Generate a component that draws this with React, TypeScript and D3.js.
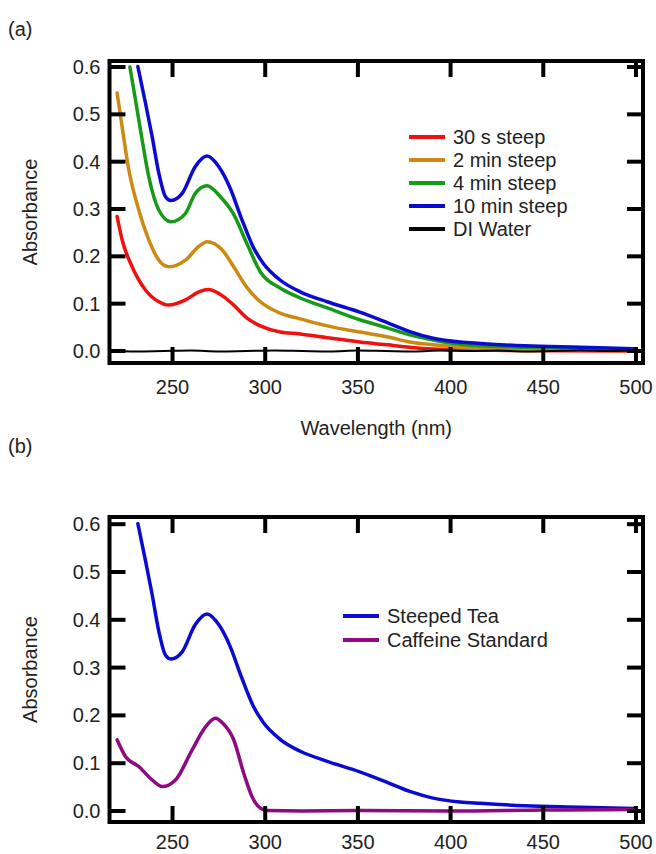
import React from "react";
import * as d3 from "d3";

// ---------- Data ----------
const xTicks = [250, 300, 350, 400, 450, 500];
const yTicks = [0.0, 0.1, 0.2, 0.3, 0.4, 0.5, 0.6];

const wl10min = [231.3, 235.4, 239, 242.6, 246.2, 249.2, 255.2, 262.3, 268.6, 274.9, 281, 287, 293.6, 299, 308, 318.9, 333.5, 351, 365.8, 378, 390.6, 405, 416, 440, 470, 499];
const abs10min = [0.601, 0.524, 0.453, 0.376, 0.326, 0.318, 0.333, 0.39, 0.412, 0.39, 0.345, 0.282, 0.219, 0.185, 0.15, 0.125, 0.104, 0.082, 0.06, 0.041, 0.027, 0.019, 0.016, 0.011, 0.008, 0.005];

const wl4min = [227, 230, 233.6, 237.2, 242.6, 249.2, 257, 262.3, 268.6, 275.8, 282.8, 290, 297.4, 308, 318.9, 333.5, 351, 365.8, 378, 390.6, 405, 416, 440, 470, 499];
const abs4min = [0.6, 0.531, 0.446, 0.368, 0.298, 0.273, 0.291, 0.333, 0.349, 0.326, 0.29, 0.228, 0.167, 0.133, 0.112, 0.091, 0.066, 0.049, 0.034, 0.023, 0.014, 0.011, 0.008, 0.006, 0.004];

const wl2min = [220.1, 222.8, 226.4, 231.8, 237.2, 242.6, 248, 257, 264.2, 268.6, 276.7, 283, 290, 297.4, 308, 318.9, 333.5, 351, 365.8, 378, 390.6, 405, 430, 465, 499];
const abs2min = [0.545, 0.474, 0.383, 0.298, 0.235, 0.192, 0.178, 0.192, 0.221, 0.231, 0.214, 0.178, 0.135, 0.104, 0.08, 0.068, 0.053, 0.04, 0.03, 0.019, 0.013, 0.008, 0.004, 0.002, 0.001];

const wl30s = [220.1, 222.8, 228.2, 235.4, 242.6, 248, 257, 264.2, 269.5, 277.5, 283, 290, 297.4, 308, 318.9, 333.5, 351, 365.8, 378, 390.6, 405, 440, 499];
const abs30s = [0.284, 0.235, 0.178, 0.129, 0.104, 0.097, 0.108, 0.125, 0.13, 0.115, 0.097, 0.07, 0.053, 0.04, 0.036, 0.028, 0.019, 0.013, 0.008, 0.004, 0.002, 0.001, 0.0];

const wlWater = [216, 230, 245, 260, 275, 290, 305, 320, 335, 350, 365, 380, 395, 410, 425, 440, 455, 470, 485, 500];
const absWater = [0.001, -0.001, 0.0, 0.001, -0.001, 0.0, 0.001, 0.0, -0.001, 0.001, 0.0, -0.001, 0.001, 0.0, 0.001, -0.001, 0.0, 0.001, 0.0, 0.001];

const wlCaffeine = [220.1, 224.6, 231.8, 239, 244.4, 251.6, 260.6, 267.8, 273.1, 277, 283, 288.4, 292.9, 297.4, 301, 320, 350, 400, 450, 500];
const absCaffeine = [0.149, 0.114, 0.093, 0.065, 0.051, 0.065, 0.128, 0.176, 0.194, 0.184, 0.149, 0.079, 0.03, 0.006, 0.001, 0.0, 0.001, 0.0, 0.002, 0.003];

const seriesA = [
  { name: "30 s steep", color: "#f01010", wl: wl30s, abs: abs30s, width: 3.5 },
  { name: "2 min steep", color: "#cc8a12", wl: wl2min, abs: abs2min, width: 3.5 },
  { name: "4 min steep", color: "#179a17", wl: wl4min, abs: abs4min, width: 3.5 },
  { name: "10 min steep", color: "#0a0ad0", wl: wl10min, abs: abs10min, width: 3.5 },
  { name: "DI Water", color: "#000000", wl: wlWater, abs: absWater, width: 2 },
];

const seriesB = [
  { name: "Steeped Tea", color: "#0a0ad0", wl: wl10min, abs: abs10min, width: 3.5 },
  { name: "Caffeine Standard", color: "#8e0a82", wl: wlCaffeine, abs: absCaffeine, width: 3.5 },
];

const FONT = "'Liberation Sans', Arial, Helvetica, sans-serif";
const TEXT = "#222";

type Series = { name: string; color: string; wl: number[]; abs: number[]; width: number };

function Panel({
  top, bottom, left, right, series, yZero, yPer, legendX, legendY, legendStep, showXTitle, labelOffset,
}: {
  top: number; bottom: number; left: number; right: number; series: Series[];
  yZero: number; yPer: number; legendX: number; legendY: number; legendStep: number; showXTitle: boolean; labelOffset: number;
}) {
  const x = d3.scaleLinear().domain([216, 503.8]).range([left, right]);
  const y = d3.scaleLinear().domain([0, 0.6]).range([yZero, yZero - yPer * 6]);
  const line = (s: Series) =>
    d3.line<number>()
      .x((_, i) => x(s.wl[i]))
      .y((v) => y(v))
      .curve(d3.curveMonotoneX)(s.abs) || "";
  const tl = 16;
  const clipId = `clip-${top}`;
  return (
    <g>
      <defs>
        <clipPath id={clipId}>
          <rect x={left} y={top} width={right - left} height={bottom - top} />
        </clipPath>
      </defs>
      <g clipPath={`url(#${clipId})`}>
        {series.map((s) => (
          <path key={s.name} d={line(s)} fill="none" stroke={s.color} strokeWidth={s.width} strokeLinejoin="round" strokeLinecap="round" />
        ))}
      </g>
      {/* frame */}
      <rect x={left} y={top} width={right - left} height={bottom - top} fill="none" stroke="#000" strokeWidth={4} />
      {/* x ticks */}
      {xTicks.map((t) => (
        <g key={`x${t}`}>
          <line x1={x(t)} x2={x(t)} y1={bottom} y2={bottom - tl} stroke="#000" strokeWidth={4} />
          <line x1={x(t)} x2={x(t)} y1={top} y2={top + tl} stroke="#000" strokeWidth={4} />
          <text x={x(t)} y={bottom + labelOffset} dy="0.35em" textAnchor="middle" fontFamily={FONT} fontSize={20} fill={TEXT}>{t}</text>
        </g>
      ))}
      {/* y ticks */}
      {yTicks.map((t) => (
        <g key={`y${t}`}>
          <line x1={left} x2={left + tl} y1={y(t)} y2={y(t)} stroke="#000" strokeWidth={4} />
          <line x1={right} x2={right - tl} y1={y(t)} y2={y(t)} stroke="#000" strokeWidth={4} />
          <text x={left - 9} y={y(t)} dy="0.35em" textAnchor="end" fontFamily={FONT} fontSize={20} fill={TEXT}>{t.toFixed(1)}</text>
        </g>
      ))}
      <text transform={`translate(30,${(top + bottom) / 2}) rotate(-90)`} dy="0.35em" textAnchor="middle" fontFamily={FONT} fontSize={20} fill={TEXT}>Absorbance</text>
      {showXTitle && (
        <text x={(left + right) / 2} y={bottom + 65} dy="0.35em" textAnchor="middle" fontFamily={FONT} fontSize={20} fill={TEXT}>Wavelength (nm)</text>
      )}
      {/* legend */}
      {series.map((s, i) => (
        <g key={`l${s.name}`}>
          <line x1={legendX} x2={legendX + 36} y1={legendY + i * legendStep} y2={legendY + i * legendStep} stroke={s.color} strokeWidth={4} />
          <text x={legendX + 44} y={legendY + i * legendStep} dy="0.35em" fontFamily={FONT} fontSize={20} fill={TEXT}>{s.name}</text>
        </g>
      ))}
    </g>
  );
}

export default function App() {
  return (
    <svg width={656} height={854} style={{ position: "absolute", left: 0, top: 0, background: "#fff" }}>
      <rect width={656} height={854} fill="#fff" />
      <text x={8} y={29} dy="0.35em" fontFamily={FONT} fontSize={20} fill={TEXT}>(a)</text>
      <Panel top={61} bottom={363} left={109.5} right={643} series={seriesA} yZero={351} yPer={47.33}
        legendX={409} legendY={137} legendStep={23} showXTitle={true} labelOffset={24} />
      <text x={8} y={446} dy="0.35em" fontFamily={FONT} fontSize={20} fill={TEXT}>(b)</text>
      <Panel top={517} bottom={822} left={109.5} right={643} series={seriesB} yZero={811} yPer={47.8}
        legendX={343} legendY={616} legendStep={24} showXTitle={false} labelOffset={20} />
    </svg>
  );
}
